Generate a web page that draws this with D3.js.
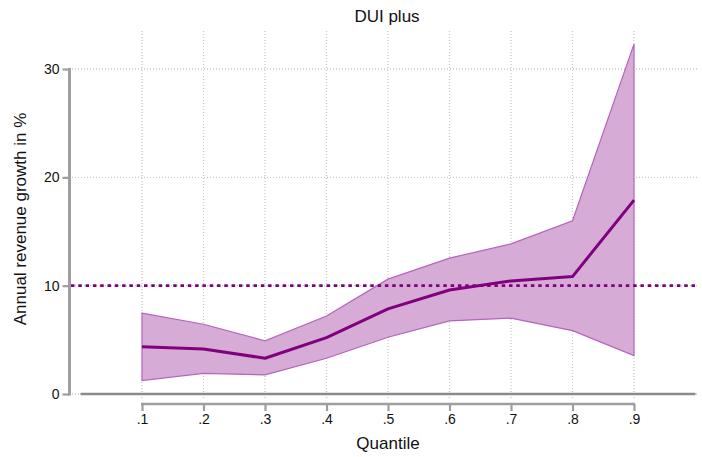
<!DOCTYPE html>
<html>
<head>
<meta charset="utf-8">
<script src="https://cdn.jsdelivr.net/npm/d3@7"></script>
<style>
  body { margin: 0; background: #fff; }
  svg { display: block; }
  text { font-family: "Liberation Sans", Arial, sans-serif; fill: #111; }
</style>
</head>
<body>
<svg id="chart" width="702" height="457"></svg>
<script>
const quantiles = [0.1, 0.2, 0.3, 0.4, 0.5, 0.6, 0.7, 0.8, 0.9];
const estimate  = [4.37, 4.16, 3.3, 5.2, 7.86, 9.6, 10.44, 10.84, 17.9];
const upperCI   = [7.46, 6.44, 4.9, 7.2, 10.6, 12.54, 13.86, 15.99, 32.3];
const lowerCI   = [1.23, 1.91, 1.76, 3.3, 5.24, 6.75, 7.0, 5.85, 3.54];
const xTickLabels = [".1", ".2", ".3", ".4", ".5", ".6", ".7", ".8", ".9"];
const yTicks = [0, 10, 20, 30];
const refLine = 10;
const titleText = "DUI plus";
const xTitle = "Quantile";
const yTitle = "Annual revenue growth in %";

const data = quantiles.map((q, i) => ({ q, est: estimate[i], lo: lowerCI[i], hi: upperCI[i] }));

const svg = d3.select("#chart");
const plot = { left: 70, right: 699, top: 31, bottom: 400 };

const x = d3.scaleLinear().domain([0, 1]).range([80.5, 695.5]);
const y = d3.scaleLinear().domain([0, 30]).range([394, 69]);

// Grid lines
const gridColor = "#c8c8c8";
svg.append("g").selectAll("line").data(yTicks).join("line")
  .attr("x1", plot.left + 2).attr("x2", plot.right)
  .attr("y1", d => y(d)).attr("y2", d => y(d))
  .attr("stroke", gridColor).attr("stroke-width", 1.3)
  .attr("stroke-dasharray", "1,2");
svg.append("g").selectAll("line").data(quantiles).join("line")
  .attr("x1", d => x(d)).attr("x2", d => x(d))
  .attr("y1", plot.top).attr("y2", plot.bottom)
  .attr("stroke", gridColor).attr("stroke-width", 1.3)
  .attr("stroke-dasharray", "1,2");

// Zero line
svg.append("line")
  .attr("x1", x(0)).attr("x2", x(1))
  .attr("y1", y(0)).attr("y2", y(0))
  .attr("stroke", "#8a8a8a").attr("stroke-width", 2.5);

// CI band
const area = d3.area().x(d => x(d.q)).y0(d => y(d.lo)).y1(d => y(d.hi));
svg.append("path").datum(data)
  .attr("d", area)
  .attr("fill", "#d6abd6")
  .attr("stroke", "#b464be")
  .attr("stroke-width", 1.2);

// Reference line at 10
svg.append("line")
  .attr("x1", plot.left + 1).attr("x2", x(1))
  .attr("y1", y(refLine)).attr("y2", y(refLine))
  .attr("stroke", "#800080").attr("stroke-width", 2.8)
  .attr("stroke-dasharray", "3.5,3.8");

// Estimate line
const line = d3.line().x(d => x(d.q)).y(d => y(d.est));
svg.append("path").datum(data)
  .attr("d", line)
  .attr("fill", "none")
  .attr("stroke", "#800080")
  .attr("stroke-width", 3)
  .attr("stroke-linejoin", "round");

// Y axis
const yAxis = d3.axisLeft(y).tickValues(yTicks).tickSize(7).tickPadding(3);
const gy = svg.append("g").attr("transform", `translate(${69.5},0)`).call(yAxis);
gy.select(".domain").attr("d", `M0,${y(30) - 1}V${y(0) + 1.5}`).style("stroke", "#9e9e9e").style("stroke-width", "3px");
gy.selectAll(".tick line").style("stroke", "#9e9e9e").style("stroke-width", "2.2px");
gy.selectAll(".tick text").style("font-size", "14px").style("font-family", "Liberation Sans, Arial, sans-serif").style("fill", "#111");

// X axis
const xAxis = d3.axisBottom(x).tickValues(quantiles).tickFormat((d, i) => xTickLabels[i]).tickSize(7).tickPadding(3);
const gx = svg.append("g").attr("transform", `translate(0,${404})`).call(xAxis);
gx.select(".domain").attr("d", `M${x(0.1) - 1},0H${x(0.9) + 1}`).style("stroke", "#9e9e9e").style("stroke-width", "2.5px");
gx.selectAll(".tick line").style("stroke", "#9e9e9e").style("stroke-width", "2.2px");
gx.selectAll(".tick text").style("font-size", "14px").style("font-family", "Liberation Sans, Arial, sans-serif").style("fill", "#111");

// Titles
svg.append("text").attr("x", 387).attr("y", 22).attr("text-anchor", "middle")
  .style("font-size", "17px").text(titleText);
svg.append("text").attr("x", 388).attr("y", 449).attr("text-anchor", "middle")
  .style("font-size", "17px").text(xTitle);
svg.append("text").attr("transform", `translate(26,${219}) rotate(-90)`).attr("text-anchor", "middle")
  .style("font-size", "17px").text(yTitle);
</script>
</body>
</html>
